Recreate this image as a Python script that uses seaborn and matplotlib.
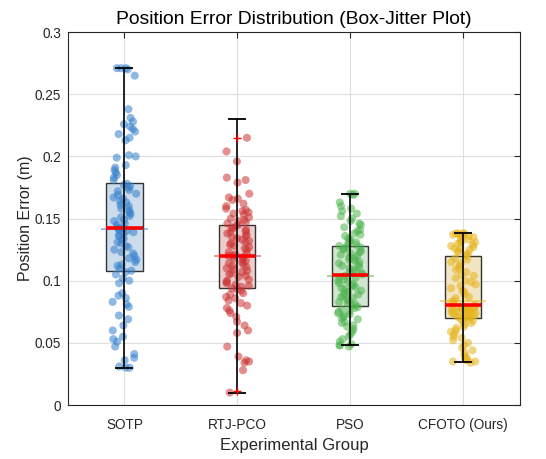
import numpy as np
import pandas as pd
import matplotlib
matplotlib.use("Agg")
import matplotlib.pyplot as plt
import seaborn as sns
from matplotlib.ticker import FuncFormatter, MultipleLocator

groups = ["SOTP", "RTJ-PCO", "PSO", "CFOTO (Ours)"]

sotp = [0.030, 0.030, 0.031, 0.036, 0.038, 0.041, 0.047, 0.051, 0.053, 0.055, 0.060, 0.064,
        0.069, 0.072, 0.079, 0.081, 0.083, 0.086, 0.088, 0.090, 0.098, 0.100, 0.102, 0.105, 0.107,
        0.108, 0.110, 0.112, 0.113, 0.115, 0.117, 0.118, 0.120, 0.122, 0.123, 0.125, 0.127, 0.128,
        0.130, 0.131, 0.133, 0.134, 0.136, 0.137, 0.138, 0.139, 0.140, 0.141, 0.142, 0.142,
        0.143, 0.145, 0.146, 0.148, 0.149, 0.151, 0.152, 0.154, 0.155, 0.157, 0.158, 0.160, 0.161,
        0.163, 0.164, 0.166, 0.167, 0.169, 0.170, 0.172, 0.173, 0.175, 0.176, 0.177, 0.178,
        0.181, 0.183, 0.185, 0.187, 0.189, 0.191, 0.193, 0.199, 0.200, 0.201, 0.213, 0.215, 0.218,
        0.220, 0.222, 0.224, 0.226, 0.228, 0.231, 0.238, 0.265, 0.270, 0.271, 0.271, 0.271]

rtj = [0.010, 0.028, 0.034, 0.035, 0.036, 0.039, 0.047, 0.058, 0.060, 0.064, 0.067, 0.071,
       0.074, 0.076, 0.078, 0.080, 0.082, 0.084, 0.086, 0.087, 0.089, 0.090, 0.092, 0.093, 0.094,
       0.095, 0.096, 0.097, 0.098, 0.099, 0.100, 0.101, 0.103, 0.104, 0.105, 0.106, 0.107, 0.108,
       0.109, 0.110, 0.111, 0.112, 0.113, 0.114, 0.115, 0.116, 0.117, 0.118, 0.119, 0.120,
       0.120, 0.121, 0.122, 0.123, 0.125, 0.126, 0.127, 0.128, 0.129, 0.130, 0.131, 0.132, 0.133,
       0.134, 0.135, 0.136, 0.137, 0.138, 0.139, 0.140, 0.141, 0.142, 0.143, 0.144, 0.145,
       0.146, 0.147, 0.148, 0.149, 0.150, 0.151, 0.153, 0.154, 0.155, 0.156, 0.157, 0.158, 0.160,
       0.162, 0.165, 0.166, 0.167, 0.170, 0.179, 0.181, 0.183, 0.196, 0.204, 0.215]

pso = [0.047, 0.048, 0.048, 0.049, 0.051, 0.053, 0.055, 0.057, 0.059, 0.061, 0.063, 0.064,
       0.066, 0.067, 0.069, 0.070, 0.071, 0.072, 0.073, 0.074, 0.075, 0.076, 0.077, 0.078, 0.079,
       0.080, 0.081, 0.082, 0.083, 0.084, 0.085, 0.086, 0.087, 0.088, 0.089, 0.090, 0.091, 0.092,
       0.093, 0.094, 0.095, 0.096, 0.097, 0.098, 0.099, 0.100, 0.101, 0.102, 0.103, 0.104,
       0.105, 0.106, 0.107, 0.108, 0.109, 0.110, 0.111, 0.112, 0.113, 0.114, 0.115, 0.116, 0.117,
       0.118, 0.119, 0.120, 0.121, 0.122, 0.123, 0.124, 0.125, 0.126, 0.127, 0.127, 0.128,
       0.129, 0.130, 0.131, 0.132, 0.133, 0.134, 0.136, 0.137, 0.138, 0.140, 0.141, 0.143, 0.145,
       0.146, 0.148, 0.150, 0.152, 0.154, 0.156, 0.158, 0.160, 0.163, 0.169, 0.170, 0.170]

cfoto = [0.034, 0.035, 0.035, 0.036, 0.037, 0.038, 0.040, 0.042, 0.044, 0.046, 0.048, 0.050,
         0.052, 0.054, 0.055, 0.057, 0.059, 0.060, 0.062, 0.063, 0.065, 0.066, 0.067, 0.068, 0.069,
         0.070, 0.070, 0.071, 0.071, 0.072, 0.072, 0.073, 0.073, 0.074, 0.074, 0.075, 0.075, 0.076,
         0.076, 0.077, 0.077, 0.077, 0.078, 0.078, 0.078, 0.079, 0.079, 0.079, 0.080, 0.080,
         0.081, 0.083, 0.084, 0.086, 0.087, 0.089, 0.091, 0.092, 0.094, 0.096, 0.097, 0.099, 0.100,
         0.102, 0.104, 0.105, 0.107, 0.109, 0.110, 0.112, 0.114, 0.115, 0.117, 0.118, 0.120,
         0.121, 0.122, 0.123, 0.124, 0.125, 0.126, 0.126, 0.127, 0.128, 0.129, 0.130, 0.131, 0.131,
         0.132, 0.133, 0.134, 0.135, 0.136, 0.136, 0.137, 0.137, 0.138, 0.138, 0.138, 0.138]

whisker_low = [0.030, 0.010, 0.048, 0.035]
whisker_high = [0.271, 0.230, 0.170, 0.138]
group_means = [0.142, 0.120, 0.104, 0.0834]
outlier_group = ["RTJ-PCO", "RTJ-PCO"]
outlier_values = [0.215, 0.011]

point_colors = ["#3380cc", "#cc3333", "#4db34d", "#e6b31a"]
fill_colors = ["#c6dcf2", "#f2c6c6", "#cdeacd", "#f8e8bc"]

df = pd.DataFrame({
    "group": np.repeat(groups, [len(sotp), len(rtj), len(pso), len(cfoto)]),
    "value": np.concatenate([sotp, rtj, pso, cfoto]),
})

sns.set_style("white")
plt.rcParams["font.family"] = ["Liberation Sans", "DejaVu Sans"]

fig = plt.figure(figsize=(5.46, 4.59), dpi=100)
ax = fig.add_axes([0.1245, 0.1176, 0.8275, 0.8124])

sns.boxplot(data=df, x="group", y="value", hue="group", order=groups, hue_order=groups,
            palette=fill_colors, width=0.32, whis=0, showcaps=False, showfliers=False,
            linecolor="#333333", linewidth=1.0, legend=False, ax=ax,
            whiskerprops=dict(linewidth=0),
            medianprops=dict(color="red", linewidth=2.6, zorder=4))

pos = np.arange(len(groups))
ax.hlines(group_means, pos - 0.205, pos + 0.205, colors=point_colors, linewidth=1.3,
          alpha=0.55, zorder=3)

np.random.seed(3)
sns.stripplot(data=df, x="group", y="value", hue="group", order=groups, hue_order=groups,
              palette=point_colors, jitter=0.11, size=5.8, alpha=0.55, linewidth=0,
              legend=False, ax=ax, zorder=2)

ax.vlines(pos, whisker_low, whisker_high, colors="black", linewidth=1.2, zorder=5)
ax.hlines(whisker_low, pos - 0.08, pos + 0.08, colors="black", linewidth=1.3, zorder=5)
ax.hlines(whisker_high, pos - 0.08, pos + 0.08, colors="black", linewidth=1.3, zorder=5)

ox = [groups.index(g) for g in outlier_group]
ax.scatter(ox, outlier_values, marker="+", color="red", s=40, linewidth=1.0, zorder=6)

ax.set_xlim(-0.5, 3.5)
ax.set_ylim(0, 0.3)
ax.yaxis.set_major_locator(MultipleLocator(0.05))
ax.yaxis.set_major_formatter(FuncFormatter(lambda v, p: f"{v:g}"))
ax.grid(True, color="#dfdfdf", linewidth=0.8)
ax.set_axisbelow(True)
for s in ax.spines.values():
    s.set_color("#262626")
    s.set_linewidth(0.8)
ax.tick_params(direction="in", length=4, width=0.8, colors="#262626",
               labelsize=9.8, labelcolor="#262626", top=True, right=True)
ax.tick_params(axis="x", pad=9)
ax.tick_params(axis="y", pad=5)
ax.set_xlabel("Experimental Group", fontsize=12, color="#262626", labelpad=5)
ax.set_ylabel("Position Error (m)", fontsize=11.5, color="#262626", labelpad=1)
ax.set_title("Position Error Distribution (Box-Jitter Plot)", fontsize=13.9, color="black", pad=6)

fig.savefig("out.png", dpi=100)
